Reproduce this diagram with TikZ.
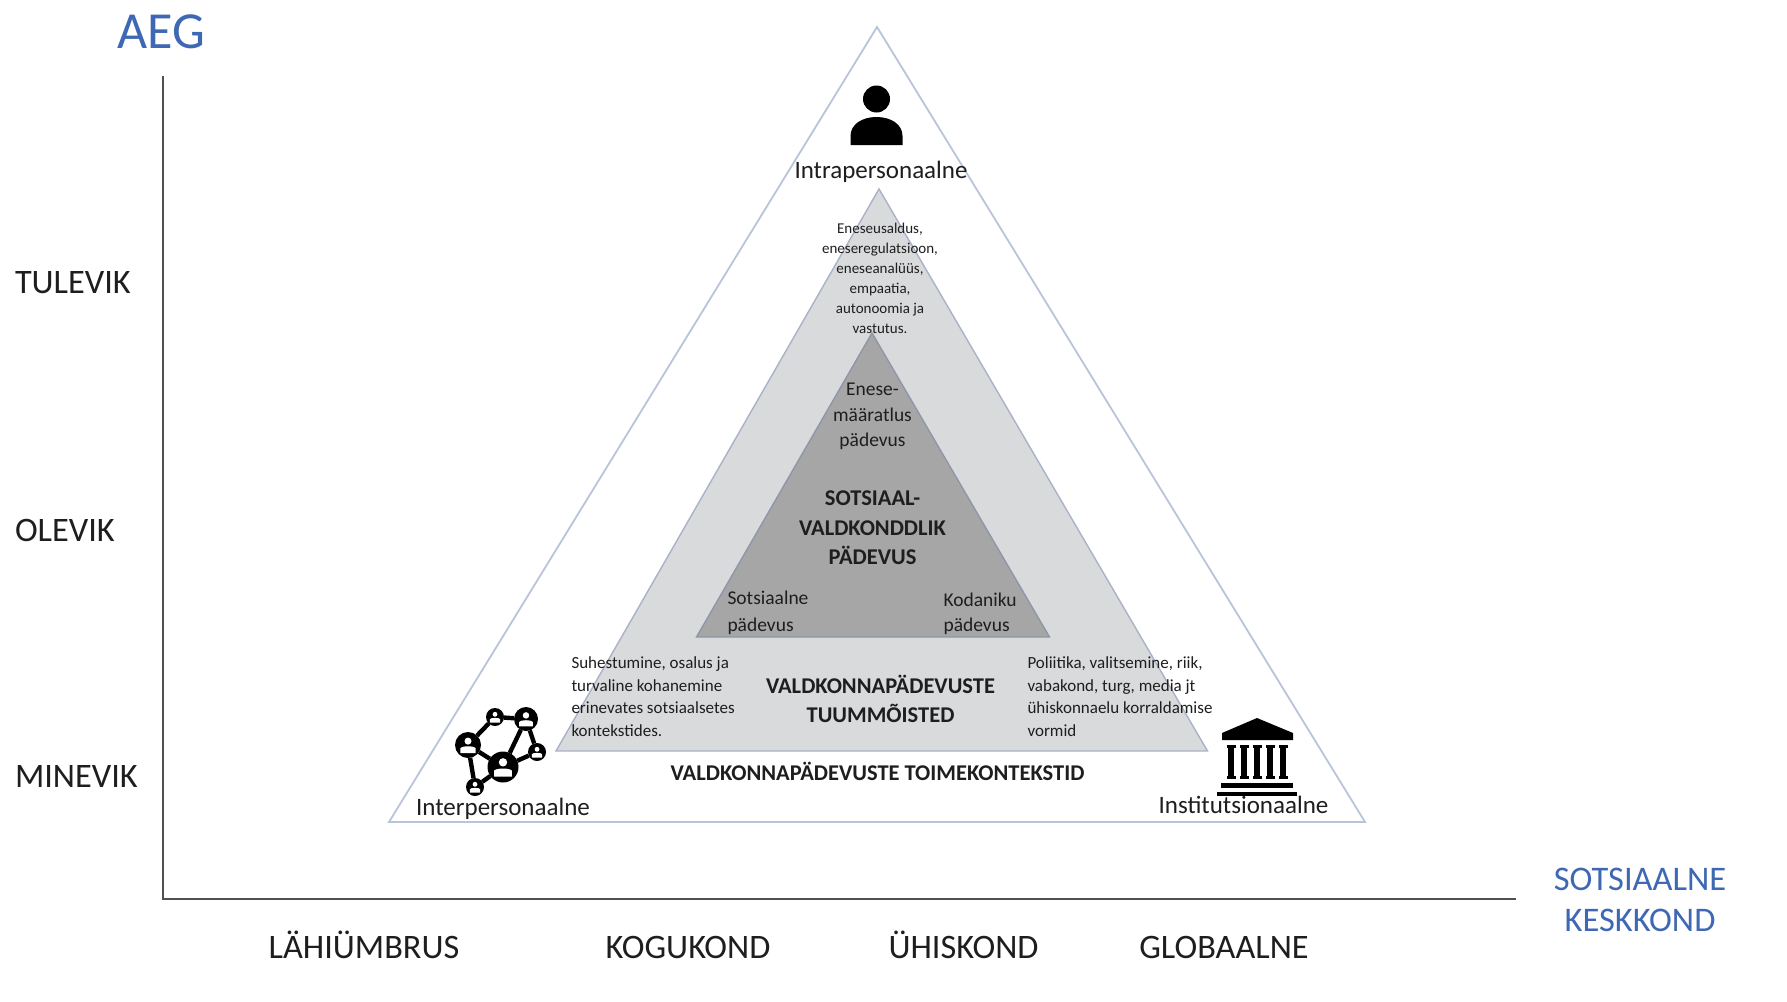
\documentclass[tikz,border=0pt]{standalone}
\usepackage{fontspec}
\setmainfont{Carlito}
\definecolor{axisline}{HTML}{505050}
\definecolor{headblue}{HTML}{3F68B4}
\definecolor{outeredge}{HTML}{B9C4DC}
\definecolor{midfill}{HTML}{D9DADB}
\definecolor{midedge}{HTML}{A8B2C8}
\definecolor{innerfill}{HTML}{A6A6A6}
\definecolor{inneredge}{HTML}{8E96A8}
\definecolor{inktext}{HTML}{1E1E1E}
\tikzset{
  txt/.style={inner sep=0pt,outer sep=0pt,anchor=base,text=inktext},
  axislabel/.style={txt,font=\fontsize{34.3}{34.3}\selectfont},
  bluelabel/.style={txt,text=headblue,font=\fontsize{34.5}{41}\selectfont,align=center},
  levellabel/.style={txt,font=\fontsize{25}{25}\selectfont},
  tiny/.style={txt,font=\fontsize{15}{20}\selectfont},
  bodytext/.style={txt,font=\fontsize{17}{22.5}\selectfont},
  midtext/.style={txt,font=\fontsize{19.5}{25.5}\selectfont},
  midwide/.style={txt,font=\fontsize{19.5}{27.5}\selectfont},
  strong/.style={txt,font=\bfseries\fontsize{22.5}{29.5}\selectfont},
  netnode/.style={circle,fill=black,inner sep=0pt,outer sep=0pt},
  netlink/.style={line width=4.4pt,black},
}
\begin{document}
\begin{tikzpicture}[x=1pt,y=-1pt]
\useasboundingbox (0,0) rectangle (1787,1001);
\fill[white] (0,0) rectangle (1787,1001);

% axes
\coordinate (axtop) at (163,76);
\coordinate (axorigin) at (163,899);
\coordinate (axright) at (1516,899);
\draw[axisline,line width=1.5pt] (axtop) -- (axorigin) -- (axright);

% triangles
\coordinate (oa) at (877,27); \coordinate (ob) at (389,822); \coordinate (oc) at (1365,822);
\coordinate (ma) at (879,189); \coordinate (mb) at (556,751); \coordinate (mc) at (1207.5,751);
\coordinate (ia) at (872,333); \coordinate (ib) at (696.5,637); \coordinate (ic) at (1049.5,637);
\draw[outeredge,fill=white,line width=1.8pt,line join=miter] (oa) -- (ob) -- (oc) -- cycle;
\draw[midedge,fill=midfill,line width=1.4pt] (ma) -- (mb) -- (mc) -- cycle;
\draw[inneredge,fill=innerfill,line width=1.4pt] (ia) -- (ib) -- (ic) -- cycle;

% axis labels
\node[txt,text=headblue,font=\fontsize{52}{52}\selectfont] (aeg) at (161,48) {AEG};
\node[axislabel,anchor=base west] (tulevik) at (15,293) {TULEVIK};
\node[axislabel,anchor=base west] (olevik) at (15,541) {OLEVIK};
\node[axislabel,anchor=base west] (minevik) at (15,787) {MINEVIK};
\node[axislabel] (lahi) at (364,958) {LÄHIÜMBRUS};
\node[axislabel] (kogu) at (688,958) {KOGUKOND};
\node[axislabel] (uhis) at (963.5,958) {ÜHISKOND};
\node[axislabel] (glob) at (1224,958) {GLOBAALNE};
\node[bluelabel,anchor=north] (sots) at (1640,868) {SOTSIAALNE\\KESKKOND};

% level labels
\node[levellabel] (intra) at (881,178) {Intrapersonaalne};
\node[levellabel] (inter) at (503,815) {Interpersonaalne};
\node[levellabel] (inst) at (1249,813.5) {\hspace*{-11pt}Institutsionaalne};

% person icon
\fill[black] (876.5,99) circle (13.5);
\fill[black] (850.5,145) -- (850.5,136) .. controls (850.5,124) and (862.5,117) .. (876.5,117)
  .. controls (890.5,117) and (902.5,124) .. (902.5,136) -- (902.5,145) -- cycle;

% small text
\node[tiny,align=center,anchor=north] (selftext) at (880,223)
  {Eneseusaldus,\\eneseregulatsioon,\\eneseanalüüs,\\empaatia,\\autonoomia ja\\vastutus.};
\node[midtext,align=center,anchor=north] (selfcomp) at (872.5,383)
  {Enese-\\määratlus\\pädevus};
\node[strong,align=center,anchor=north] (core) at (872.5,491)
  {SOTSIAAL-\\VALDKONDDLIK\\PÄDEVUS};
\node[midwide,align=left,anchor=north west] (social) at (727.5,590.5) {Sotsiaalne\\pädevus};
\node[midtext,align=left,anchor=north west] (civic) at (943.5,592.5) {Kodaniku\\pädevus};
\node[bodytext,align=left,anchor=north west] (lefttext) at (571.5,657)
  {Suhestumine, osalus ja\\turvaline kohanemine\\erinevates sotsiaalsetes\\kontekstides.};
\node[bodytext,align=left,anchor=north west] (righttext) at (1027.5,657)
  {Poliitika, valitsemine, riik,\\vabakond, turg, media jt\\ühiskonnaelu korraldamise\\vormid};
\node[strong,align=center,anchor=north] (tuum) at (880.5,675)
  {VALDKONNAPÄDEVUSTE\\TUUMMÕISTED};
\node[strong] (toime) at (877.5,780) {VALDKONNAPÄDEVUSTE TOIMEKONTEKSTID};

% network icon
\foreach \n/\x/\y/\r in {n1/468/745/13,n2/526/719/12,n3/503/767/15.5,n4/495/717/9,n5/537/752/9,n6/475/787/9}{
  \node[netnode,minimum size=2*\r pt] (\n) at (\x,\y) {};
}
\foreach \a/\b in {n4/n2,n1/n4,n2/n3,n2/n5,n5/n3,n1/n3,n1/n6,n6/n3}{
  \draw[netlink] (\a) -- (\b);
}
\foreach \x/\y/\r in {468/745/13,526/719/12,503/767/15.5,495/717/9,537/752/9,475/787/9}{
  \fill[white] (\x,\y-0.3*\r) circle (0.27*\r);
  \fill[white] (\x-0.58*\r,\y+0.62*\r) -- (\x-0.58*\r,\y+0.25*\r)
     .. controls (\x-0.5*\r,\y+0.05*\r) and (\x+0.5*\r,\y+0.05*\r) .. (\x+0.58*\r,\y+0.25*\r)
     -- (\x+0.58*\r,\y+0.62*\r) -- cycle;
}

% institution icon
\fill[black] (1257,718) -- (1222,733) -- (1222,740) -- (1293,740) -- (1293,733) -- cycle;
\foreach \x in {1231,1244,1257,1270,1283}{
  \fill[black] (\x-4.5,745) rectangle (\x+4.5,748);
  \fill[black] (\x-3,748) rectangle (\x+3,776);
  \fill[black] (\x-4.5,776) rectangle (\x+4.5,779);
}
\fill[black] (1221,783) rectangle (1293,787.5);
\fill[black] (1217,792) rectangle (1297,796);
\end{tikzpicture}
\end{document}
